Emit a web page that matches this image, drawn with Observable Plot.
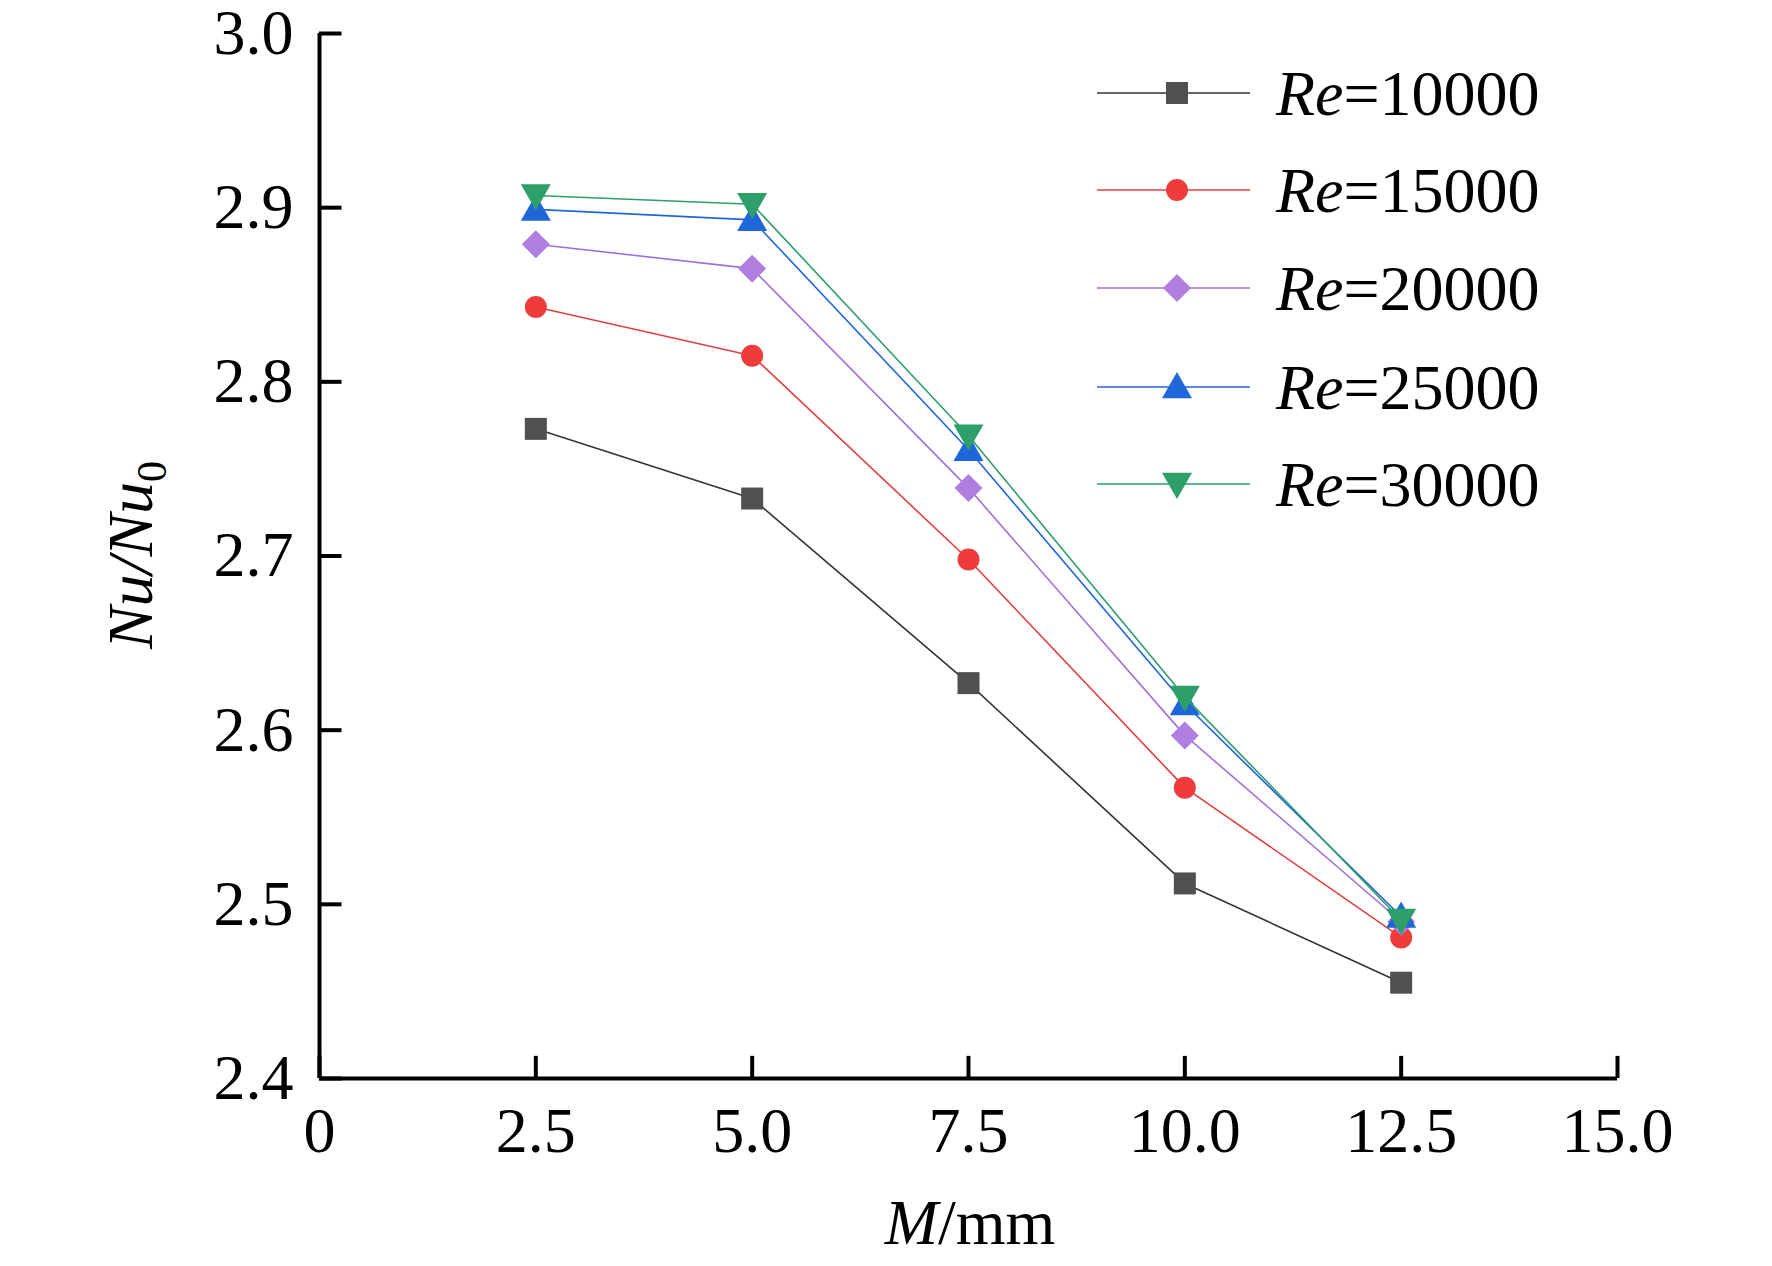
<!DOCTYPE html>
<html><head><meta charset="utf-8">
<script src="https://cdn.jsdelivr.net/npm/d3@7"></script>
<script src="https://cdn.jsdelivr.net/npm/@observablehq/plot@0.6"></script>
<style>body{margin:0;background:#fff}</style>
</head><body><div id="c"></div>
<script>
const M = [2.5, 5.0, 7.5, 10.0, 12.5];
const re10000 = [2.773, 2.733, 2.627, 2.512, 2.455];
const re15000 = [2.843, 2.815, 2.698, 2.567, 2.481];
const re20000 = [2.879, 2.865, 2.739, 2.597, 2.490];
const re25000 = [2.899, 2.893, 2.761, 2.615, 2.493];
const re30000 = [2.907, 2.902, 2.769, 2.619, 2.491];
const seriesNames = ["10000","15000","20000","25000","30000"];
const seriesVals = [re10000,re15000,re20000,re25000,re30000];
const xTicks = [0,2.5,5,7.5,10,12.5,15];
const yTicks = [2.4,2.5,2.6,2.7,2.8,2.9,3.0];
const colors = ["#505050","#ee3b3b","#b07ee0","#1f66d8","#2e9e6b"];
const lineColors = ["#333333","#e04040","#a070d8","#1f66d8","#2e9e6b"];
const sq = {draw(c){const s=11; c.moveTo(-s,-s);c.lineTo(s,-s);c.lineTo(s,s);c.lineTo(-s,s);c.closePath();}};
const ci = {draw(c){c.moveTo(11,0);c.arc(0,0,11,0,2*Math.PI);}};
const di = {draw(c){const s=14; c.moveTo(0,-s);c.lineTo(s,0);c.lineTo(0,s);c.lineTo(-s,0);c.closePath();}};
const tu = {draw(c){const s=15; c.moveTo(0,-s);c.lineTo(s,s*0.75);c.lineTo(-s,s*0.75);c.closePath();}};
const td = {draw(c){const s=15; c.moveTo(0,s);c.lineTo(s,-s*0.75);c.lineTo(-s,-s*0.75);c.closePath();}};
const symbols = [sq, ci, di, tu, td];

const data = [];
seriesNames.forEach((n,i)=>M.forEach((m,j)=>data.push({m, v:seriesVals[i][j], s:n, i})));

const W=1772,H=1266, mL=319, mR=155, mT=33, mB=188;
const marks = [];
seriesNames.forEach((n,i)=>{
  const d = data.filter(e=>e.s===n);
  marks.push(Plot.line(d,{x:"m",y:"v",stroke:lineColors[i],strokeWidth:1.6}));
  marks.push(Plot.dot(d,{x:"m",y:"v",fill:colors[i],symbol:()=>symbols[i],r:11}));
});
const plot = Plot.plot({
  width:W,height:H,marginLeft:mL,marginRight:mR,marginTop:mT,marginBottom:mB,
  x:{domain:[0,15]}, y:{domain:[2.4,3.0]},
  style:{fontFamily:"Liberation Serif",fontSize:"64px",color:"#000"},
  marks:[
    Plot.axisX(xTicks,{tickSize:0,tickPadding:28,tickFormat:d=>d===0?"0":d.toFixed(1),fontSize:64,label:null}),
    Plot.axisY(yTicks,{tickSize:0,tickPadding:26,tickFormat:d=>d.toFixed(1),fontSize:64,label:null}),
    Plot.ruleX(xTicks,{x:d=>d,y1:2.4,y2:2.4127,stroke:"#000",strokeWidth:4}),
    Plot.ruleY(yTicks,{y:d=>d,x1:0,x2:0.26,stroke:"#000",strokeWidth:4}),
    Plot.ruleY([2.4],{x1:0,x2:15,stroke:"#000",strokeWidth:4}),
    Plot.ruleX([0],{y1:2.4,y2:3.0,stroke:"#000",strokeWidth:4}),
    ...marks
  ]
});
document.getElementById("c").appendChild(plot);
const svg = d3.select(plot);
const xl = svg.append("text").attr("x",970).attr("y",1244).attr("text-anchor","middle")
  .style("font-family","Liberation Serif").style("font-size","64px");
xl.append("tspan").attr("font-style","italic").text("M");
xl.append("tspan").text("/mm");
const yl = svg.append("text").attr("transform","translate(152,555) rotate(-90)").attr("text-anchor","middle")
  .style("font-family","Liberation Serif").style("font-size","64px").attr("font-style","italic");
yl.append("tspan").text("Nu/Nu");
yl.append("tspan").attr("font-size","42px").attr("dy","14").attr("font-style","normal").text("0");
const ys=[93,190,288,387,484];
seriesNames.forEach((n,i)=>{
  const g = svg.append("g");
  g.append("line").attr("x1",1097).attr("x2",1250).attr("y1",ys[i]).attr("y2",ys[i]).attr("stroke",lineColors[i]).attr("stroke-width",1.6);
  const p = d3.path(); symbols[i].draw(p);
  g.append("path").attr("transform",`translate(1177,${ys[i]})`).attr("d",p.toString()).attr("fill",colors[i]);
  const tx = g.append("text").attr("x",1276).attr("y",ys[i]+22).attr("text-anchor","start").style("font-family","Liberation Serif").style("font-size","64px");
  tx.append("tspan").attr("font-style","italic").text("Re");
  tx.append("tspan").text("="+n);
});
</script></body></html>
